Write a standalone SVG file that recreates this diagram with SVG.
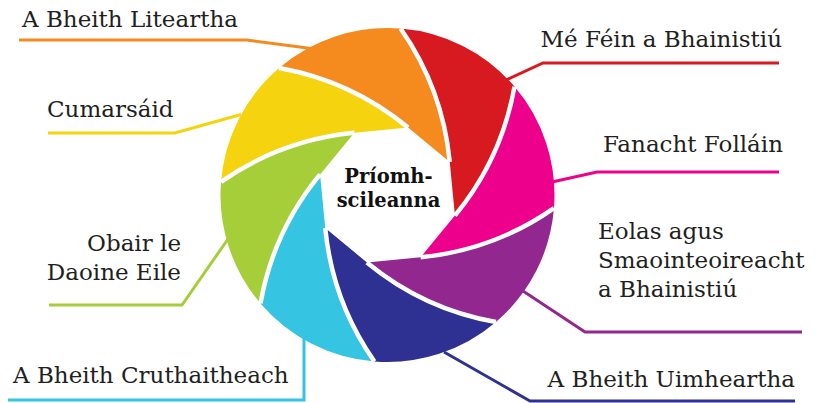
<svg xmlns="http://www.w3.org/2000/svg" xmlns:xlink="http://www.w3.org/1999/xlink" width="826" height="403" viewBox="0 0 826 403">
<style>
.lbl{font-family:"DejaVu Serif","Liberation Serif",serif;font-size:23px;fill:#231f20}
.ctr{font-family:"DejaVu Serif","Liberation Serif",serif;font-size:19.5px;font-weight:bold;fill:#111;text-anchor:middle}
.end{text-anchor:end}
.ldr{fill:none;stroke-width:3;stroke-linejoin:miter}
.sep{fill:none;stroke:#fff;stroke-width:4.5}
</style>
<defs>
<path id="blade" d="M449.75 161.90 Q442.71 88.74 400.60 28.51 A167 167 0 0 0 279.04 68.01 Q351.40 80.82 408.11 127.58 Z"/>
<path id="sepc" d="M449.75 161.90 Q442.71 88.74 400.60 28.51"/>
</defs>
<rect width="826" height="403" fill="#fff"/>
<g id="connectors">
<path class="ldr" stroke="#F58A1F" d="M19 40 H247 L311 48.5"/>
<path class="ldr" stroke="#F5D30E" d="M48 133 H175 L241 114.5"/>
<path class="ldr" stroke="#D71920" d="M779 63 H543 L506 80"/>
<path class="ldr" stroke="#EC008C" d="M779 172 H597 L552 182"/>
<path class="ldr" stroke="#92278F" d="M802 332 H585 L523 291"/>
<path class="ldr" stroke="#2E3192" d="M795 401 H530 L444 352"/>
<path class="ldr" stroke="#35C4E1" d="M8 400 H304 V338"/>
<path class="ldr" stroke="#A6CE39" d="M49 305 H182 L228 239"/>
</g>
<g id="litearthacht">
<use xlink:href="#blade" href="#blade" fill="#F58A1F"/>
<text class="lbl" x="22" y="27">A Bheith Liteartha</text>
</g>
<g id="cumarsaid">
<use xlink:href="#blade" href="#blade" fill="#F5D30E" transform="rotate(-45 387.5 195)"/>
<text class="lbl" x="47" y="117">Cumarsáid</text>
</g>
<g id="obair">
<use xlink:href="#blade" href="#blade" fill="#A6CE39" transform="rotate(-90 387.5 195)"/>
<text class="lbl end" x="181" y="251">Obair le</text>
<text class="lbl end" x="181" y="280">Daoine Eile</text>
</g>
<g id="cruthaitheach">
<use xlink:href="#blade" href="#blade" fill="#35C4E1" transform="rotate(-135 387.5 195)"/>
<text class="lbl" x="13" y="383">A Bheith Cruthaitheach</text>
</g>
<g id="uimheartha">
<use xlink:href="#blade" href="#blade" fill="#2E3192" transform="rotate(180 387.5 195)"/>
<text class="lbl end" x="795" y="387">A Bheith Uimheartha</text>
</g>
<g id="eolas">
<use xlink:href="#blade" href="#blade" fill="#92278F" transform="rotate(135 387.5 195)"/>
<text class="lbl" x="598" y="239">Eolas agus</text>
<text class="lbl" x="598" y="268">Smaointeoireacht</text>
<text class="lbl" x="598" y="297">a Bhainistiú</text>
</g>
<g id="follain">
<use xlink:href="#blade" href="#blade" fill="#EC008C" transform="rotate(90 387.5 195)"/>
<text class="lbl end" x="783" y="152">Fanacht Folláin</text>
</g>
<g id="bainistiu">
<use xlink:href="#blade" href="#blade" fill="#D71920" transform="rotate(45 387.5 195)"/>
<text class="lbl end" x="782" y="47">Mé Féin a Bhainistiú</text>
</g>
<g id="separators">
<use xlink:href="#sepc" href="#sepc" class="sep"/>
<use xlink:href="#sepc" href="#sepc" class="sep" transform="rotate(-45 387.5 195)"/>
<use xlink:href="#sepc" href="#sepc" class="sep" transform="rotate(-90 387.5 195)"/>
<use xlink:href="#sepc" href="#sepc" class="sep" transform="rotate(-135 387.5 195)"/>
<use xlink:href="#sepc" href="#sepc" class="sep" transform="rotate(180 387.5 195)"/>
<use xlink:href="#sepc" href="#sepc" class="sep" transform="rotate(135 387.5 195)"/>
<use xlink:href="#sepc" href="#sepc" class="sep" transform="rotate(90 387.5 195)"/>
<use xlink:href="#sepc" href="#sepc" class="sep" transform="rotate(45 387.5 195)"/>
</g>
<g id="centre">
<text class="ctr" x="388.5" y="183">Príomh-</text>
<text class="ctr" x="388.5" y="207">scileanna</text>
</g>
</svg>
